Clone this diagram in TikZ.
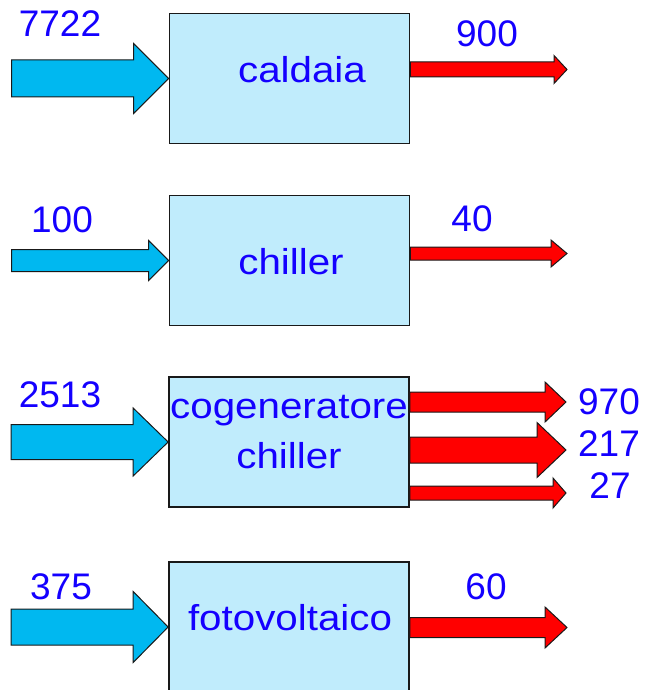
\documentclass[tikz,border=0pt]{standalone}
\usepackage{fontspec}
\setmainfont{Liberation Sans}
\newfontfamily\widefont[FakeStretch=1.12]{Liberation Sans}
\usepackage{tikz}
\usepackage{xcolor}
\usetikzlibrary{calc, positioning}
\definecolor{flowcyan}{RGB}{0, 184, 240}
\definecolor{flowred}{RGB}{255, 0, 0}
\definecolor{boxblue}{RGB}{192, 236, 252}
\definecolor{txtblue}{RGB}{20, 0, 255}
\definecolor{edgegray}{RGB}{25, 25, 25}
\tikzset{
    procbox/.style={rectangle, draw=edgegray, fill=boxblue, line width=0.85pt, minimum width=120pt, minimum height=65pt, inner sep=0pt},
    boxtext/.style={text=txtblue, font=\widefont\fontsize{18}{25}\selectfont, align=center, inner sep=0pt},
    numtext/.style={text=txtblue, font=\fontsize{18.5}{22}\selectfont, inner sep=0pt},
    inflow/.style={fill=flowcyan, draw=edgegray, line width=0.5pt},
    outflow/.style={fill=flowred, draw=edgegray, line width=0.5pt}
}
% fat arrow: [style]{tail}{tip}{shaft half width}{head half width}{head length}
\newcommand{\fatarrow}[6][]{%
    \draw[#1] ($(#2)+(0,#4)$) -- ($(#3)+(-#6,#4)$) -- ($(#3)+(-#6,#5)$) -- (#3)
        -- ($(#3)+(-#6,-#5)$) -- ($(#3)+(-#6,-#4)$) -- ($(#2)+(0,-#4)$) -- cycle;}

\begin{document}
\begin{tikzpicture}[x=0.5pt, y=-0.5pt]
    \clip (0,0) rectangle (648,690);
    % boxes
    \node[procbox] (cald) at (289.5,78.5) {};
    \node[procbox] (chil) at (289.5,260.5) {};
    \node[procbox] (cogen) at (289,442) {};
    \node[procbox] (fotov) at (289,627) {};
    \node[boxtext] (caldtxt) at (302,70) {caldaia};
    \node[boxtext] (chiltxt) at (291,262) {chiller};
    \node[boxtext] (cogentxt) at (289,432) {cogeneratore\\chiller};
    \node[boxtext] (fotovtxt) at (290,617.5) {fotovoltaico};
    % ends of the arrows
    \coordinate (caldin) at ($(cald.west)+(-157,0)$);
    \coordinate (chilin) at ($(chil.west)+(-157,0)$);
    \coordinate (cogenin) at ($(cogen.west)+(-157,0)$);
    \coordinate (fotovin) at ($(fotov.west)+(-157,0)$);
    \coordinate (caldout) at (567,69.5);
    \coordinate (chilout) at (567,253.5);
    \coordinate (cogenouta) at (566,402);
    \coordinate (cogenoutb) at (566,450);
    \coordinate (cogenoutc) at (566,493);
    \coordinate (fotovout) at (567,627.5);
    % inputs
    \fatarrow[inflow]{caldin}{cald.west}{18.5}{35}{35}
    \fatarrow[inflow]{chilin}{chil.west}{11}{20}{20}
    \fatarrow[inflow]{cogenin}{cogen.west}{17.5}{34}{35}
    \fatarrow[inflow]{fotovin}{fotov.west}{18}{35.5}{35}
    % outputs
    \fatarrow[outflow]{cald.east |- caldout}{caldout}{7.5}{14}{13}
    \fatarrow[outflow]{chil.east |- chilout}{chilout}{6.5}{13.5}{16}
    \fatarrow[outflow]{cogen.east |- cogenouta}{cogenouta}{10}{20}{21}
    \fatarrow[outflow]{cogen.east |- cogenoutb}{cogenoutb}{13}{27.5}{29}
    \fatarrow[outflow]{cogen.east |- cogenoutc}{cogenoutc}{7}{15}{13}
    \fatarrow[outflow]{fotov.east |- fotovout}{fotovout}{10}{20.5}{22}
    % values
    \node[numtext] (caldinval) at (60,24) {7722};
    \node[numtext] (caldoutval) at (487,34) {900};
    \node[numtext] (chilinval) at (62,220) {100};
    \node[numtext] (chiloutval) at (472,219) {40};
    \node[numtext] (cogeninval) at (60,395) {2513};
    \node[numtext] (cogenvala) at (609,402) {970};
    \node[numtext] (cogenvalb) at (609,444) {217};
    \node[numtext] (cogenvalc) at (610,486) {27};
    \node[numtext] (fotovinval) at (61,587) {375};
    \node[numtext] (fotovoutval) at (486,587) {60};
\end{tikzpicture}
\end{document}
